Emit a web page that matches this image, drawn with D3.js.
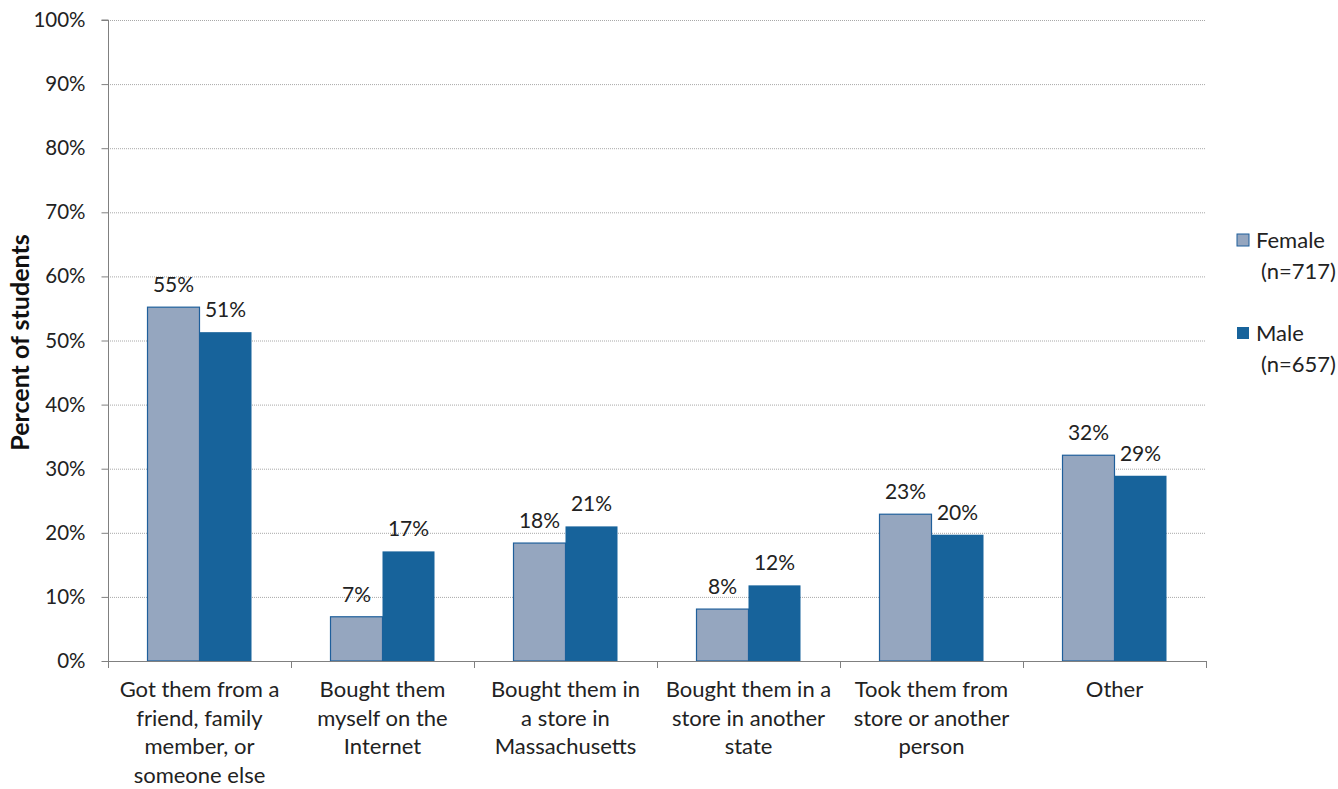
<!DOCTYPE html>
<html><head><meta charset="utf-8">
<script src="https://cdn.jsdelivr.net/npm/d3@7"></script>
<style>body{margin:0;background:#fff;} svg{display:block;font-family:Lato,"Open Sans",sans-serif;}</style>
</head><body>
<svg id="c" width="1338" height="789"></svg>
<script>
const categories = [
  ["Got them from a","friend, family","member, or","someone else"],
  ["Bought them","myself on the","Internet"],
  ["Bought them in","a store in","Massachusetts"],
  ["Bought them in a","store in another","state"],
  ["Took them from","store or another","person"],
  ["Other"]
];
const femaleValues = [55.2, 6.9, 18.4, 8.1, 22.9, 32.1];
const maleValues = [51.3, 17.1, 21.0, 11.8, 19.7, 28.9];
const femaleLabels = ["55%","7%","18%","8%","23%","32%"];
const maleLabels = ["51%","17%","21%","12%","20%","29%"];
const yTicks = [0,10,20,30,40,50,60,70,80,90,100];
const seriesNames = [["Female","(n=717)"],["Male","(n=657)"]];

(function(){
const svg = d3.select("#c");
const mL=108, mR=1206, mT=20, mB=661;
const x = d3.scaleBand().domain(d3.range(categories.length)).range([mL,mR]).paddingInner(0).paddingOuter(0);
const y = d3.scaleLinear().domain([0,100]).range([mB,mT]);
const barW = 52;
const colors = {f:"#95A6BF", m:"#17639B", stroke:"#1F5F9B"};

svg.append("g").selectAll("line").data(yTicks.filter(d=>d>0)).join("line")
  .attr("x1",mL).attr("x2",mR).attr("y1",d=>y(d)+0.5).attr("y2",d=>y(d)+0.5)
  .attr("stroke","#a8a8a8").attr("stroke-width",1).attr("stroke-dasharray","1,1");

const yAxis = d3.axisLeft(y).tickValues(yTicks).tickFormat(d=>d+"%").tickSize(7).tickPadding(16);
const gy = svg.append("g").attr("transform",`translate(${mL+0.5},0)`).call(yAxis)
  .attr("font-family",null).attr("font-size",null);
gy.select(".domain").attr("stroke","#808080").attr("d",`M-7,${y(100)}H0V${mB}`);
gy.selectAll(".tick line").attr("stroke","#808080");
gy.selectAll("text").attr("font-size",20.5).attr("fill","#222");

const cx = i => x(i)+x.bandwidth()/2;
const g = svg.append("g");
g.selectAll("rect.f").data(femaleValues).join("rect").attr("class","f")
  .attr("x",(d,i)=>cx(i)-barW).attr("width",barW)
  .attr("y",d=>y(d)).attr("height",d=>mB-y(d))
  .attr("fill",colors.f).attr("stroke",colors.stroke).attr("stroke-width",1.2);
g.selectAll("rect.m").data(maleValues).join("rect").attr("class","m")
  .attr("x",(d,i)=>cx(i)).attr("width",barW)
  .attr("y",d=>y(d)).attr("height",d=>mB-y(d))
  .attr("fill",colors.m);

g.selectAll("text.fl").data(femaleValues).join("text").attr("class","fl")
  .attr("x",(d,i)=>cx(i)-barW/2).attr("y",d=>y(d)-15)
  .attr("text-anchor","middle").attr("font-size",21).attr("fill","#222")
  .text((d,i)=>femaleLabels[i]);
g.selectAll("text.ml").data(maleValues).join("text").attr("class","ml")
  .attr("x",(d,i)=>cx(i)+barW/2).attr("y",d=>y(d)-15)
  .attr("text-anchor","middle").attr("font-size",21).attr("fill","#222")
  .text((d,i)=>maleLabels[i]);

svg.append("line").attr("x1",mL).attr("x2",mR).attr("y1",mB+0.5).attr("y2",mB+0.5).attr("stroke","#808080");
svg.append("g").selectAll("line").data(d3.range(categories.length+1)).join("line")
  .attr("x1",i=>mL+i*x.bandwidth()+0.5).attr("x2",i=>mL+i*x.bandwidth()+0.5)
  .attr("y1",mB).attr("y2",mB+7).attr("stroke","#808080");
const xl = svg.append("g");
categories.forEach((lines,i)=>{
  const t = xl.append("text").attr("x",cx(i)).attr("y",697).attr("text-anchor","middle")
    .attr("font-size",22).attr("fill","#222");
  lines.forEach((l,j)=>t.append("tspan").attr("x",cx(i)).attr("dy",j?28.7:0).text(l));
});

svg.append("text").attr("transform",`translate(29,${(mT+mB)/2+2}) rotate(-90)`)
  .attr("text-anchor","middle").attr("font-size",25).attr("font-weight","bold").attr("fill","#111")
  .text("Percent of students");

const leg = svg.append("g");
[[colors.f,true,240],[colors.m,false,333]].forEach(([c,st,yy],k)=>{
  leg.append("rect").attr("x",1237).attr("y",yy-6).attr("width",12).attr("height",12)
    .attr("fill",c).attr("stroke",st?colors.stroke:"none");
  leg.append("text").attr("x",1256).attr("y",yy+8).attr("font-size",22).attr("fill","#222").text(seriesNames[k][0]);
  leg.append("text").attr("x",1261).attr("y",yy+39).attr("font-size",22).attr("fill","#222").text(seriesNames[k][1]);
});
})();
</script>
</body></html>
